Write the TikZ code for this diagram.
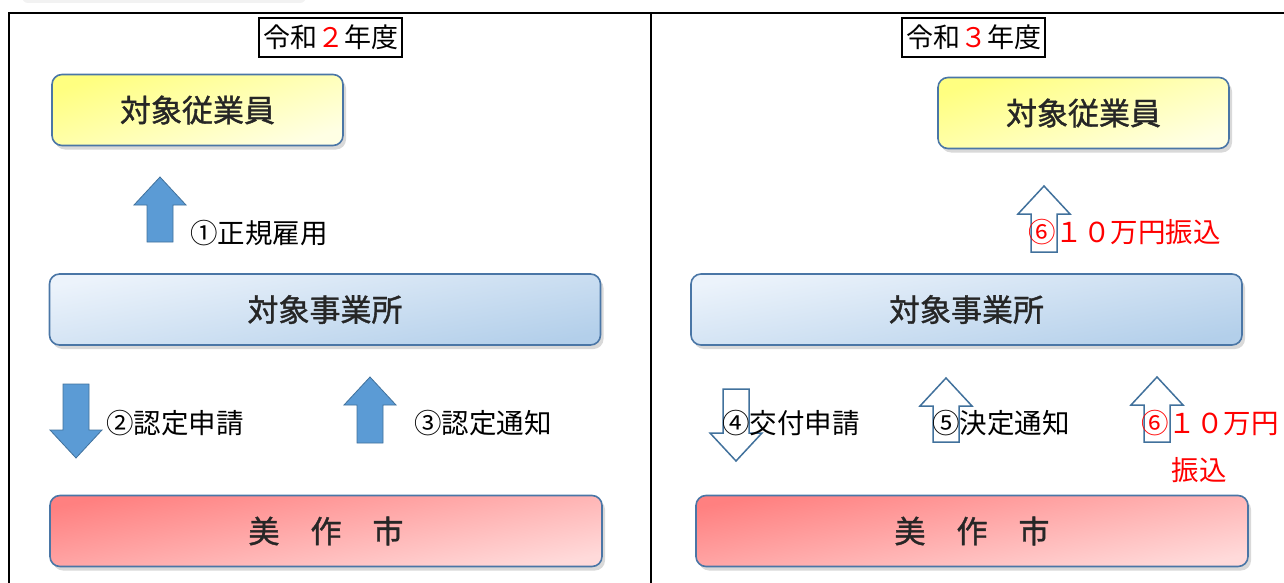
\documentclass[tikz,border=0pt]{standalone}
\usepackage{fontspec}
\setmainfont{Noto Sans CJK JP}
\newfontfamily\boxfont[FakeBold=1.2]{Noto Sans CJK JP}
\usepackage{tikz}
\usepackage{xcolor}
\usetikzlibrary{shadows}
\definecolor{boxline}{HTML}{4A76A6}
\definecolor{arrowfill}{HTML}{5B9BD5}
\definecolor{arrowline}{HTML}{41719C}
\definecolor{staffA}{HTML}{FFFF80}
\definecolor{staffB}{HTML}{FFFFE4}
\definecolor{officeA}{HTML}{ECF3FB}
\definecolor{officeB}{HTML}{B3CFEA}
\definecolor{cityA}{HTML}{FF8080}
\definecolor{cityB}{HTML}{FFDADA}

\tikzset{
  pics/blockup/.style={code={
    \draw[pic actions] (0,0) -- (26,28) -- (13,28) -- (13,#1) -- (-13,#1) -- (-13,28) -- (-26,28) -- cycle;}},
}

\begin{document}
\begin{tikzpicture}[x=1pt,y=-1pt,
  box/.style={draw=boxline,line width=1.6pt,rounded corners=10pt,minimum height=71pt,
    font=\boxfont\fontsize{31}{31}\selectfont,text=black!85,
    drop shadow={shadow xshift=3pt,shadow yshift=-4pt,opacity=.3}},
  staffbox/.style={box,top color=staffA,bottom color=staffB,shading angle=18,minimum width=291pt},
  officebox/.style={box,top color=officeA,bottom color=officeB,shading angle=10,minimum width=551pt},
  citybox/.style={box,top color=cityA,bottom color=cityB,shading angle=10,minimum width=552pt},
  yearbox/.style={draw,line width=1.3pt,inner sep=0pt,minimum width=143pt,minimum height=39pt,
    font=\fontsize{27}{27}\selectfont},
  lbl/.style={anchor=west,inner sep=0pt,font=\fontsize{27.5}{27.5}\selectfont},
  redlbl/.style={lbl,text=red},
  solidarrow/.style={fill=arrowfill,draw=arrowline,line width=0.8pt},
  openarrow/.style={fill=white,draw=arrowline,line width=1.5pt},
]
\useasboundingbox (0,0) rectangle (1284,583);
\fill[black!5,rounded corners=6pt] (22,-20) rectangle (306,3);
\draw[line width=2pt] (9,583) -- (9,13) -- (1284,13);
\draw[line width=2pt] (651,13) -- (651,583);

\node[yearbox] (yearL) at (330.5,37.5) {令和\textcolor{red}{２}年度};
\node[staffbox] (staffL) at (197.5,110) {対象従業員};
\node[officebox] (officeL) at (325,309.5) {対象事業所};
\node[citybox] (cityL) at (326,531) {美　作　市};
\pic[solidarrow] at (160,177) {blockup=65};
\pic[solidarrow,rotate=180] at (76,458) {blockup=74};
\pic[solidarrow] at (370,377) {blockup=66};
\node[lbl] (hireL) at (190,233) {①正規雇用};
\node[lbl] (applyL) at (106,423) {②認定申請};
\node[lbl] (noticeL) at (414,423) {③認定通知};

\node[yearbox] (yearR) at (973.5,37.5) {令和\textcolor{red}{３}年度};
\node[staffbox] (staffR) at (1083.5,113) {対象従業員};
\node[officebox] (officeR) at (966.5,309.5) {対象事業所};
\node[citybox] (cityR) at (972,531) {美　作　市};
\pic[openarrow] at (1044,186) {blockup=66};
\pic[openarrow,rotate=180] at (736,461) {blockup=72};
\pic[openarrow] at (946,378) {blockup=64};
\pic[openarrow] at (1157,377) {blockup=65};
\node[redlbl] (payR) at (1028,232) {⑥１０万円振込};
\node[lbl] (applyR) at (722,423) {④交付申請};
\node[lbl] (decideR) at (932,423) {⑤決定通知};
\node[redlbl] (payR2) at (1141,423) {⑥１０万円};
\node[redlbl,anchor=center] (payR3) at (1199,470) {振込};
\end{tikzpicture}
\end{document}
